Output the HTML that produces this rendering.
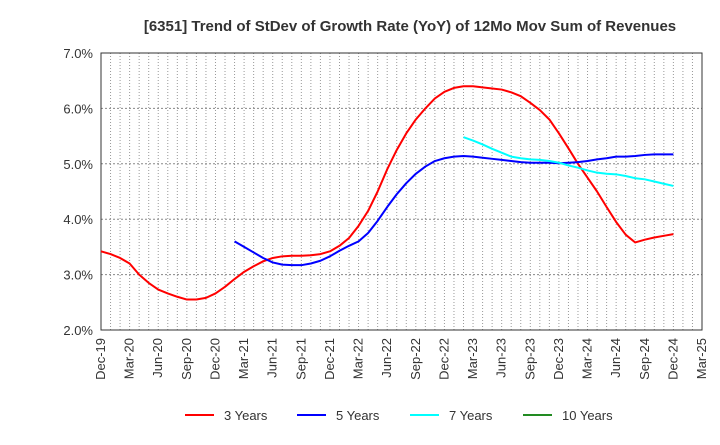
<!DOCTYPE html>
<html><head><meta charset="utf-8"><style>
body{margin:0;background:#fff;font-family:"Liberation Sans",Arial,sans-serif}
svg text{font-family:"Liberation Sans",Arial,sans-serif;fill:#333}
</style></head><body>
<svg id="c" width="720" height="440" xmlns="http://www.w3.org/2000/svg">
<text x="410" y="31" text-anchor="middle" font-size="15" font-weight="bold">[6351]  Trend of StDev of Growth Rate (YoY) of 12Mo Mov Sum of Revenues</text>
</svg>
<script>
const xLabels=["Dec-19","Mar-20","Jun-20","Sep-20","Dec-20","Mar-21","Jun-21","Sep-21","Dec-21","Mar-22","Jun-22","Sep-22","Dec-22","Mar-23","Jun-23","Sep-23","Dec-23","Mar-24","Jun-24","Sep-24","Dec-24","Mar-25"];
const yTicks=[2,3,4,5,6,7];
const s3Start=0;
const s3=[3.42,3.37,3.3,3.2,3.0,2.85,2.73,2.66,2.6,2.55,2.55,2.58,2.66,2.78,2.92,3.05,3.15,3.24,3.3,3.33,3.34,3.34,3.35,3.37,3.42,3.52,3.66,3.88,4.15,4.5,4.9,5.25,5.55,5.8,6.0,6.18,6.3,6.37,6.4,6.4,6.38,6.36,6.34,6.29,6.22,6.1,5.97,5.8,5.55,5.28,5.0,4.75,4.5,4.22,3.95,3.72,3.58,3.63,3.67,3.7,3.73];
const s5Start=14;
const s5=[3.6,3.5,3.4,3.3,3.22,3.18,3.17,3.17,3.2,3.25,3.33,3.43,3.52,3.6,3.75,3.97,4.22,4.45,4.65,4.82,4.95,5.05,5.1,5.13,5.14,5.13,5.11,5.09,5.07,5.05,5.03,5.02,5.02,5.02,5.01,5.02,5.03,5.05,5.08,5.1,5.13,5.13,5.14,5.16,5.17,5.17,5.17];
const s7Start=38;
const s7=[5.48,5.42,5.35,5.27,5.2,5.13,5.1,5.08,5.07,5.05,5.02,4.97,4.93,4.88,4.84,4.82,4.81,4.78,4.74,4.72,4.68,4.64,4.6];
const s10=[];
const L=101,R=702,T=53,B=330,NM=63;
const X=m=>L+(R-L)*m/NM, Y=v=>B-(B-T)*(v-2)/5;
const svg=document.getElementById('c'),NS="http://www.w3.org/2000/svg";
function mk(t,a,p){const e=document.createElementNS(NS,t);for(const k in a)e.setAttribute(k,a[k]);(p||svg).appendChild(e);return e;}
const g=mk('g',{});


for(let m=1;m<NM;m++){mk('line',{x1:X(m),x2:X(m),y1:T,y2:B,stroke:'#999','stroke-dasharray':'1,2','stroke-width':1},g);}
yTicks.forEach(v=>{if(v>2&&v<7)mk('line',{x1:L,x2:R,y1:Y(v),y2:Y(v),stroke:'#888','stroke-dasharray':'2,2'},g);
const t=mk('text',{x:L-8,y:Y(v)+5,'text-anchor':'end','font-size':13});t.textContent=v.toFixed(1)+'%';

});
const fr=mk('rect',{x:L,y:T,width:R-L,height:B-T,fill:'none',stroke:'#333'});


xLabels.forEach((s,i)=>{const x=X(i*3)+4;const t=mk('text',{x:x,y:B+8,'text-anchor':'end','font-size':13,transform:`rotate(-90 ${x} ${B+8})`});t.textContent=s;

});
function series(d,st,col,name){if(!d.length)return;const p=mk('polyline',{points:d.map((v,i)=>X(st+i)+','+Y(v)).join(' '),fill:'none',stroke:col,'stroke-width':2,'stroke-linejoin':'round'});

}
series(s3,s3Start,'#f00','line-3-years');
series(s5,s5Start,'#00f','line-5-years');
series(s7,s7Start,'#0ff','line-7-years');
series(s10,0,'#228b22','line-10-years');
[["3 Years","#f00",185],["5 Years","#00f",297],["7 Years","#0ff",410],["10 Years","#228b22",523]].forEach(([n,c,x])=>{
const lg=mk('g',{});


mk('line',{x1:x,x2:x+29,y1:415,y2:415,stroke:c,'stroke-width':2},lg);
const t=mk('text',{x:x+39,y:420,'font-size':13},lg);t.textContent=n;});
</script>
</body></html>
